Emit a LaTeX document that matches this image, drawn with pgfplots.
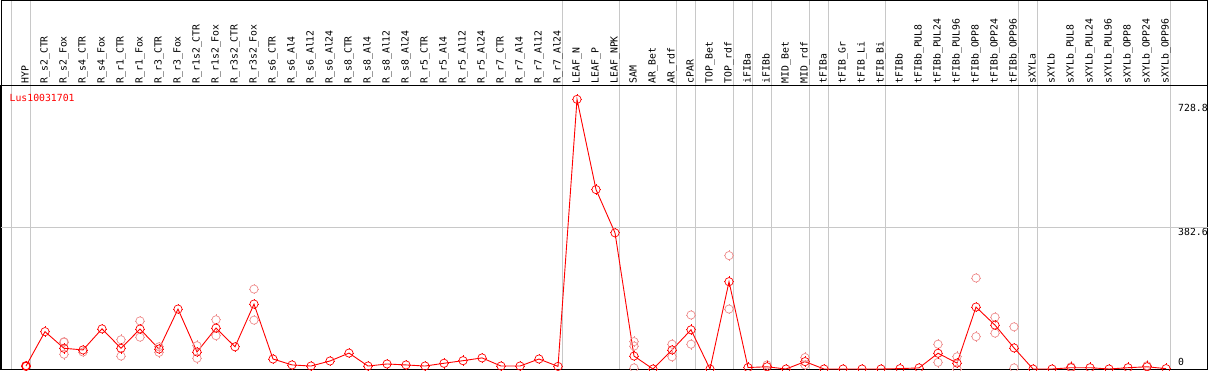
\documentclass[border=0pt]{standalone}
\usepackage{fontspec}
\setmainfont{DejaVu Sans Mono}
\usepackage{pgfplots}
\usepackage{pgfplotstable}
\pgfplotsset{compat=1.18}
\definecolor{gridgray}{RGB}{200,200,200}
\definecolor{repred}{RGB}{238,140,140}
\newcommand{\lblfont}{\fontsize{9.8}{11}\selectfont}
\pgfdeclareplotmark{ring}{%
  \pgfpathcircle{\pgfpointorigin}{0.78\pgfplotmarksize}%
  \pgfusepathqstroke
  \pgfsetlinewidth{0.7pt}%
  \pgfpathmoveto{\pgfqpoint{0pt}{0.78\pgfplotmarksize}}\pgfpathlineto{\pgfqpoint{0pt}{\pgfplotmarksize}}%
  \pgfpathmoveto{\pgfqpoint{0pt}{-0.78\pgfplotmarksize}}\pgfpathlineto{\pgfqpoint{0pt}{-\pgfplotmarksize}}%
  \pgfpathmoveto{\pgfqpoint{0.78\pgfplotmarksize}{0pt}}\pgfpathlineto{\pgfqpoint{\pgfplotmarksize}{0pt}}%
  \pgfpathmoveto{\pgfqpoint{-0.78\pgfplotmarksize}{0pt}}\pgfpathlineto{\pgfqpoint{-\pgfplotmarksize}{0pt}}%
  \pgfusepathqstroke}

\pgfplotstableread{
x y
0 8
1 101
2 56
3 51.6
4 108.5
5 56
6 108
7 54
8 162
9 46
10 110.5
11 60
12 175.5
13 27
14 11
15 8
16 21.7
17 43
18 8
19 13.6
20 11
21 8
22 15.5
23 22.5
24 30
25 8
26 8
27 27
28 7
29 728.8
30 485
31 368
32 35
33 0
34 51.6
35 106
36 0
37 236
38 4
39 6
40 0
41 20
42 0
43 0
44 0
45 0
46 1
47 3
48 42.6
49 16
50 167.4
51 118.6
52 57
53 0
54 0
55 3.5
56 3.5
57 0
58 3.5
59 6
60 1
}\meandata

\pgfplotstableread{
x y
2 73
2 40
3 46
5 79
5 35
6 130
6 86
7 45
7 60
9 63
9 29
10 133
10 90
12 216
12 132
32 74
32 62
32 3
34 67
34 33
35 146
35 67
37 306.6
37 162
39 11
41 31
41 11
48 67
48 18
49 33
49 0
50 246
50 87.6
51 140
51 97
52 114
52 3
55 6
59 9
}\repdata

\begin{document}
\begin{tikzpicture}[x=1pt,y=1pt]
\useasboundingbox (0,0) rectangle (1209,370);
\foreach \i in {-1,0,28,31,34,35,37,38,39,41,42,45,52,53,60}
  \draw[gridgray, line width=1pt] ({26+19*(\i+0.24)},1) -- ({26+19*(\i+0.24)},370);
\draw[black, line width=1pt] (1,1) rectangle (1207.5,369.5);
\begin{axis}[
  at={(1pt,1pt)}, anchor=south west,
  scale only axis, width=1206.5pt, height=284pt,
  xmin=-1.31579, xmax=62.184, ymin=0, ymax=767.6,
  axis line style={line width=1pt},
  xtick={0,...,60},
  xticklabels={HYP,
    R\_s2\_CTR, R\_s2\_Fox, R\_s4\_CTR, R\_s4\_Fox, R\_r1\_CTR, R\_r1\_Fox, R\_r3\_CTR, R\_r3\_Fox, R\_r1s2\_CTR, R\_r1s2\_Fox, R\_r3s2\_CTR, R\_r3s2\_Fox,
    R\_s6\_CTR, R\_s6\_Al4, R\_s6\_Al12, R\_s6\_Al24, R\_s8\_CTR, R\_s8\_Al4, R\_s8\_Al12, R\_s8\_Al24, R\_r5\_CTR, R\_r5\_Al4, R\_r5\_Al12, R\_r5\_Al24, R\_r7\_CTR, R\_r7\_Al4, R\_r7\_Al12, R\_r7\_Al24,
    LEAF\_N, LEAF\_P, LEAF\_NPK, SAM, AR\_Bet, AR\_rdf, cPAR, TOP\_Bet, TOP\_rdf, iFIBa, iFIBb, MID\_Bet, MID\_rdf, tFIBa, tFIB\_Gr, tFIB\_Li, tFIB\_Bi, tFIBb, tFIBb\_PUL8, tFIBb\_PUL24, tFIBb\_PUL96, tFIBb\_OPP8, tFIBb\_OPP24, tFIBb\_OPP96, sXYLa, sXYLb, sXYLb\_PUL8, sXYLb\_PUL24, sXYLb\_PUL96, sXYLb\_OPP8, sXYLb\_OPP24, sXYLb\_OPP96},
  xticklabel pos=upper,
  xticklabel style={rotate=90, anchor=west, inner sep=1.5pt, text height=7pt, text depth=2pt, font=\lblfont},
  ytick={19,370,705}, yticklabels={0,382.6,728.8},
  yticklabel pos=right,
  yticklabel style={anchor=west, inner sep=0pt, xshift=-29.5pt, font=\lblfont},
  major tick length=0pt,
  extra y ticks={382.6}, extra y tick labels={},
  extra y tick style={grid=major, major grid style={gridgray, line width=1pt}},
  /pgf/number format/assume math mode=true,
  clip=true,
]
\addplot[only marks, mark=ring, mark size=5.3pt, color=repred, mark options={line width=1.1pt}] table {\repdata};
\addplot[red, line width=0.9pt, mark=ring, mark size=5.3pt, mark options={line width=1.4pt, solid}] table {\meandata};
\node[anchor=west, text=red, inner sep=0pt, font=\lblfont, xshift=8.5pt, yshift=-12.7pt] at (rel axis cs:0,1) {Lus10031701};
\end{axis}
\end{tikzpicture}
\end{document}
